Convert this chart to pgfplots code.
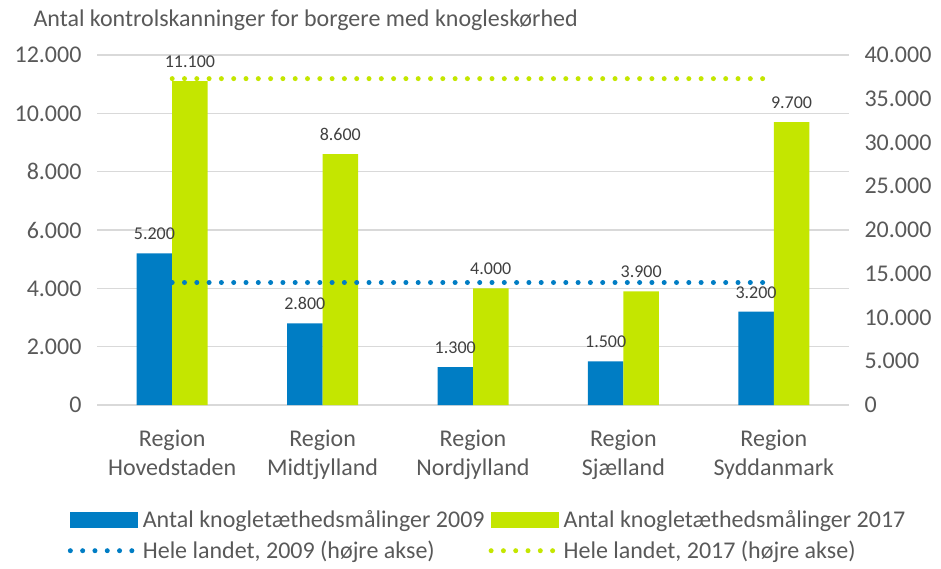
\documentclass[border=0pt]{standalone}
\usepackage{pgfplots}
\pgfplotsset{compat=1.18}
\usepackage{fontspec}
\setmainfont{Carlito}
\usetikzlibrary{calc}
\definecolor{cblue}{RGB}{0,125,196}
\definecolor{cgreen}{RGB}{196,230,0}
\definecolor{cgrid}{RGB}{217,217,217}
\definecolor{ctick}{RGB}{89,89,89}
\definecolor{clabel}{RGB}{64,64,64}
\pgfkeys{/pgf/number format/.cd,1000 sep={.},assume math mode=true}
\newcommand{\mainfont}{\fontsize{24bp}{29bp}\selectfont}
\newcommand{\lblfont}{\fontsize{18bp}{22bp}\selectfont}
\begin{document}
\begin{tikzpicture}
\begin{axis}[name=ax, scale only axis, width=752bp, height=350bp,
  xmin=-0.5, xmax=4.5, ymin=0, ymax=12000,
  axis line style={draw=none}, tick style={draw=none}, major tick length=0pt,
  ytick={0,2000,...,12000}, ymajorgrids, grid style={cgrid, line width=1.4bp},
  scaled y ticks=false,
  yticklabel style={font=\mainfont, text=ctick, xshift=-12bp},
  xtick={0,1,2,3,4},
  xticklabels={{Region\\Hovedstaden},{Region\\Midtjylland},{Region\\Nordjylland},{Region\\Sjælland},{Region\\Syddanmark}},
  xticklabel style={font=\mainfont, text=ctick, align=center, yshift=-21bp},
  ybar=0pt, bar width=35.5bp,
  nodes near coords, every node near coord/.append style={font=\lblfont, text=clabel, yshift=10bp},
]
\addplot[fill=cblue, draw=none] coordinates {(0,5200)(1,2800)(2,1300)(3,1500)(4,3200)};
\addplot[fill=cgreen, draw=none] coordinates {(0,11100)(1,8600)(2,4000)(3,3900)(4,9700)};
\end{axis}
\begin{axis}[scale only axis, width=752bp, height=350bp,
  xmin=-0.5, xmax=4.5, ymin=0, ymax=40000,
  axis line style={draw=none}, tick style={draw=none}, major tick length=0pt,
  hide x axis, yticklabel pos=right,
  ytick={0,5000,...,40000}, scaled y ticks=false,
  yticklabel style={font=\mainfont, text=ctick, xshift=12bp},
  legend columns=2, legend cell align=left,
  legend style={draw=none, fill=none, font=\mainfont, text=ctick,
    at={(-0.043,-0.29)}, anchor=north west,
    /tikz/every odd column/.append style={column sep=3bp},
    /tikz/every even column/.append style={column sep=2bp},
    row sep=8bp},
  legend image code/.code={\draw[#1] (0bp,0bp) -- (65bp,0bp);},
]
\addlegendimage{legend image code/.code={\fill[cblue] (0bp,-7.5bp) rectangle (67bp,7.5bp);}}
\addlegendimage{legend image code/.code={\fill[cgreen] (0bp,-7.5bp) rectangle (67bp,7.5bp);}}
\addplot[cblue, line width=5bp, line cap=round, dash pattern=on 0pt off 12.3bp] coordinates {(0,14000)(4,14000)};
\addplot[cgreen, line width=5bp, line cap=round, dash pattern=on 0pt off 12.3bp] coordinates {(0,37300)(4,37300)};
\legend{Antal knogletæthedsmålinger 2009, Antal knogletæthedsmålinger 2017, {Hele landet, 2009 (højre akse)}, {Hele landet, 2017 (højre akse)}}
\end{axis}
\node[anchor=west, font=\mainfont, text=ctick] at ($(ax.north west)+(-67bp,35bp)$) {Antal kontrolskanninger for borgere med knogleskørhed};
\path ($(ax.south west)+(-97bp,-163bp)$) rectangle ($(ax.north east)+(92bp,55bp)$);
\end{tikzpicture}
\end{document}
